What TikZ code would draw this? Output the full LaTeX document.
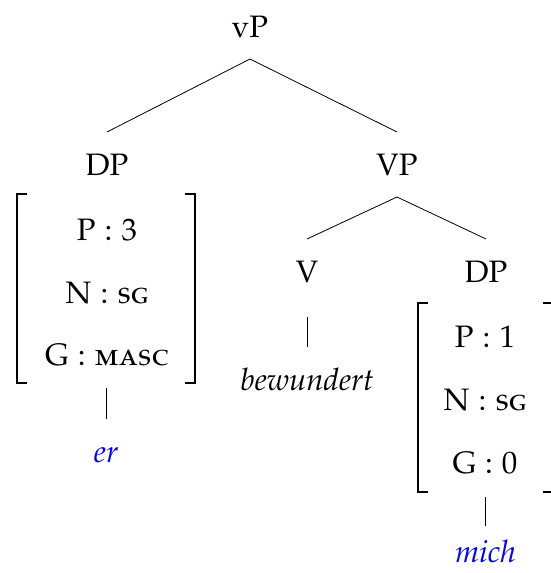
\documentclass[tikz,border=0pt]{standalone}
\usepackage[T1]{fontenc}
\usepackage[sc]{mathpazo}
\begin{document}
\begin{tikzpicture}[x=1pt,y=-1pt,
  every node/.style={font=\fontsize{31}{37}\selectfont},
  cat/.style={anchor=base, inner sep=0pt, outer xsep=0pt, outer ysep=22pt, text height=21pt, text depth=0pt},
  leafword/.style={anchor=base, inner sep=0pt, outer sep=0pt, text height=21pt, text depth=0pt},
  feat/.style={anchor=base, inner sep=0pt},
  avm/.style={inner sep=0pt, outer sep=0pt, minimum height=189pt},
  branch/.style={line width=0.8pt},
  bracket/.style={line width=1.8pt}]
\useasboundingbox (0,0) rectangle (550,573);
% category nodes
\node[cat] (vP) at (250,37) {vP};
\node[cat] (DPl) at (107,175) {DP};
\node[cat] (VP) at (397,175) {VP};
\node[cat] (V) at (307,282) {V};
\node[cat] (DPr) at (486,282) {DP};
% feature structures
\node[avm, minimum width=178pt] (fsl) at (106,288.5) {};
\node[avm, minimum width=135pt] (fsr) at (485.5,397.5) {};
\node[feat] (pl) at (107,240) {P : 3};
\node[feat] (nl) at (107,303) {N : \textsc{sg}};
\node[feat] (gl) at (107,365) {G : \textsc{masc}};
\node[feat] (pr) at (485,347) {P : 1};
\node[feat] (nr) at (485,410) {N : \textsc{sg}};
\node[feat] (gr) at (485,473) {G : 0};
% leaves
\node[leafword, text=blue] (er) at (106,462) {\textit{er}};
\node[leafword] (bew) at (307,390) {\textit{bewundert}};
\node[leafword, text=blue] (mich) at (485.5,562) {\textit{mich}};
% brackets
\foreach \f in {fsl,fsr}{
  \draw[bracket] ([xshift=10pt]\f.north west) -- (\f.north west) -- (\f.south west) -- ([xshift=10pt]\f.south west);
  \draw[bracket] ([xshift=-10pt]\f.north east) -- (\f.north east) -- (\f.south east) -- ([xshift=-10pt]\f.south east);
}
% branches
\draw[branch] (vP.south) -- (DPl.north);
\draw[branch] (vP.south) -- (VP.north);
\draw[branch] (VP.south) -- (V.north);
\draw[branch] (VP.south) -- (DPr.north);
\draw[branch, shorten <=13pt, shorten >=22pt] (V.south) -- (bew.north);
\draw[branch, shorten <=5pt, shorten >=22pt] (fsl.south) -- (er.north);
\draw[branch, shorten <=5pt, shorten >=15pt] (fsr.south) -- (mich.north);
\end{tikzpicture}
\end{document}
